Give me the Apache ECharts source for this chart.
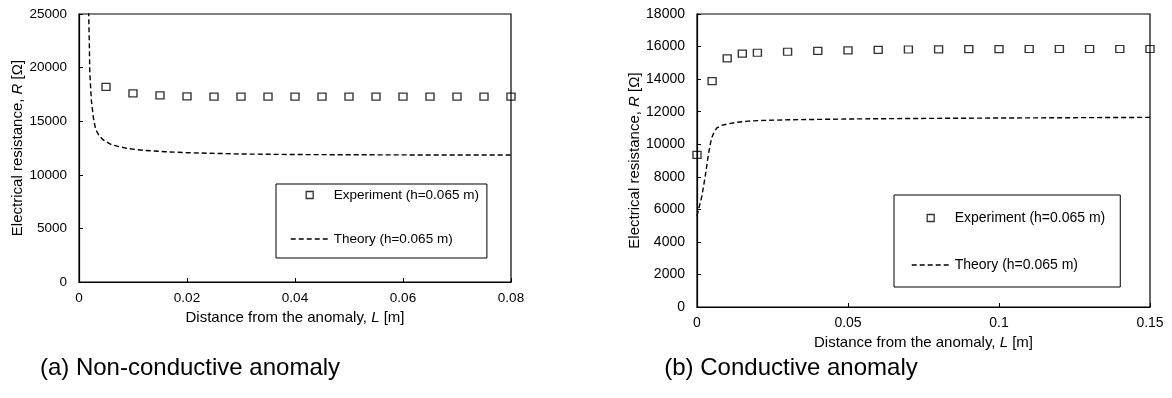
<!DOCTYPE html>
<html>
<head>
<meta charset="utf-8">
<script src="https://cdn.jsdelivr.net/npm/echarts@6/dist/echarts.min.js"></script>
<style>html,body{margin:0;padding:0;background:#fff}#c{width:1172px;height:398px}</style>
</head>
<body>
<div id="c"></div>
<script>
// ---- data ----
var expName = 'Experiment (h=0.065 m)';
var theoName = 'Theory (h=0.065 m)';
var captionA = '(a) Non-conductive anomaly';
var captionB = '(b) Conductive anomaly';
var xName = 'Distance from the anomaly, {i|L} [m]';
var yName = 'Electrical resistance, {i|R} [Ω]';

// (a) non-conductive
var leftExpL = [0.005, 0.01, 0.015, 0.02, 0.025, 0.03, 0.035, 0.04, 0.045, 0.05, 0.055, 0.06, 0.065, 0.07, 0.075, 0.08];
var leftExpR = [18200, 17600, 17410, 17320, 17300, 17290, 17290, 17290, 17290, 17290, 17290, 17290, 17290, 17290, 17290, 17290];
var leftTheoL = [0.00175, 0.0019, 0.002, 0.0023, 0.0027, 0.0031, 0.0038, 0.0045, 0.006, 0.009, 0.012, 0.016, 0.02, 0.03, 0.04, 0.05, 0.06, 0.07, 0.08];
var leftTheoR = [26000, 22500, 19500, 16900, 15200, 14200, 13600, 13250, 12800, 12450, 12280, 12150, 12060, 11940, 11890, 11870, 11855, 11845, 11840];

// (b) conductive
var rightExpL = [0, 0.005, 0.01, 0.015, 0.02, 0.03, 0.04, 0.05, 0.06, 0.07, 0.08, 0.09, 0.1, 0.11, 0.12, 0.13, 0.14, 0.15];
var rightExpR = [9340, 13880, 15270, 15560, 15620, 15680, 15740, 15760, 15800, 15820, 15830, 15840, 15840, 15850, 15850, 15850, 15850, 15850];
var rightTheoL = [0, 0.0008, 0.0016, 0.0027, 0.0038, 0.0045, 0.005, 0.0058, 0.0066, 0.008, 0.01, 0.013, 0.017, 0.02, 0.03, 0.05, 0.07, 0.1, 0.125, 0.15];
var rightTheoR = [5600, 6200, 6800, 8000, 9400, 10100, 10450, 10800, 11000, 11150, 11240, 11340, 11420, 11450, 11500, 11550, 11580, 11610, 11630, 11650];

function zip(a, b) { return a.map(function (v, i) { return [v, b[i]]; }); }

var FONT = 'Liberation Sans, Arial, sans-serif';
var chart = echarts.init(document.getElementById('c'), null, { renderer: 'canvas' });

function plain(v) { return String(v); }
var DASH = [5, 3];

function xAxis(gi, max, interval, fs, gap) {
  return {
    gridIndex: gi, type: 'value', min: 0, max: max, interval: interval,
    name: xName, nameLocation: 'middle', nameGap: gap,
    nameTextStyle: { color: '#000', fontFamily: FONT, fontSize: 15, rich: { i: { fontStyle: 'italic', fontFamily: FONT, fontSize: 15, color: '#000' } } },
    axisLine: { lineStyle: { color: '#000', width: 1.2 } },
    axisTick: { inside: true, length: 4, lineStyle: { color: '#000' } },
    axisLabel: { color: '#000', fontFamily: FONT, fontSize: fs, margin: 9, formatter: plain },
    splitLine: { show: false }
  };
}
function yAxis(gi, max, interval, fs, gap) {
  return {
    gridIndex: gi, type: 'value', min: 0, max: max, interval: interval,
    name: yName, nameLocation: 'middle', nameGap: gap,
    nameTextStyle: { color: '#000', fontFamily: FONT, fontSize: 15, rich: { i: { fontStyle: 'italic', fontFamily: FONT, fontSize: 15, color: '#000' } } },
    axisLine: { lineStyle: { color: '#000', width: 1.2 } },
    axisTick: { inside: true, length: 4, lineStyle: { color: '#000' } },
    axisLabel: { color: '#000', fontFamily: FONT, fontSize: fs, margin: 12, formatter: plain },
    splitLine: { show: false }
  };
}
var sqIcon = 'path://M0,0H10V10H0Z';
function legend(left, top, padding, gap, fs) {
  return {
    left: left, top: top, orient: 'vertical', padding: padding, itemGap: gap,
    itemWidth: 38, itemHeight: 7, symbolKeepAspect: true, selectedMode: false,
    borderColor: '#000', borderWidth: 1, backgroundColor: '#fff',
    textStyle: { color: '#000', fontFamily: FONT, fontSize: fs },
    data: [
      { name: expName, icon: sqIcon, itemStyle: { color: 'rgba(0,0,0,0)', borderColor: '#000', borderWidth: 1.3 } },
      { name: theoName, itemStyle: { color: 'rgba(0,0,0,0)', borderColor: 'rgba(0,0,0,0)', borderWidth: 0, opacity: 0 },
        lineStyle: { color: '#000', width: 1.4, type: DASH, opacity: 1 } }
    ]
  };
}
function expSeries(gi, data) {
  return {
    name: expName, type: 'scatter', xAxisIndex: gi, yAxisIndex: gi, data: data,
    symbol: 'rect', symbolSize: [8, 7], clip: false, z: 3,
    itemStyle: { color: 'rgba(0,0,0,0)', borderColor: '#000', borderWidth: 1.3 }
  };
}
function theoSeries(gi, data) {
  return {
    name: theoName, type: 'line', xAxisIndex: gi, yAxisIndex: gi, data: data,
    symbol: 'none', showSymbol: false, clip: true, smooth: false,
    itemStyle: { color: '#000' },
    lineStyle: { color: '#000', width: 1.4, type: DASH }
  };
}

chart.setOption({
  animation: false,
  backgroundColor: '#fff',
  title: [
    { text: captionA, left: 190, top: 356, textAlign: 'center', padding: 0, textStyle: { color: '#000', fontFamily: FONT, fontSize: 24, fontWeight: 'normal' } },
    { text: captionB, left: 791, top: 356, textAlign: 'center', padding: 0, textStyle: { color: '#000', fontFamily: FONT, fontSize: 24, fontWeight: 'normal' } }
  ],
  grid: [
    { left: 79, top: 14, width: 432, height: 268, show: true, borderColor: '#000', borderWidth: 1.2, backgroundColor: 'transparent', containLabel: false },
    { left: 697, top: 14, width: 453, height: 293, show: true, borderColor: '#000', borderWidth: 1.2, backgroundColor: 'transparent', containLabel: false }
  ],
  xAxis: [xAxis(0, 0.08, 0.02, 13.5, 27), xAxis(1, 0.15, 0.05, 14, 27)],
  yAxis: [yAxis(0, 25000, 5000, 13.5, 48), yAxis(1, 18000, 2000, 14, 53)],
  legend: [
    legend(276, 184, [4, 8, 12, 14], 30, 13.5),
    legend(894, 195, [16, 15, 15, 17], 33, 14)
  ],
  series: [
    expSeries(0, zip(leftExpL, leftExpR)),
    theoSeries(0, zip(leftTheoL, leftTheoR)),
    expSeries(1, zip(rightExpL, rightExpR)),
    theoSeries(1, zip(rightTheoL, rightTheoR))
  ]
});
</script>
</body>
</html>
